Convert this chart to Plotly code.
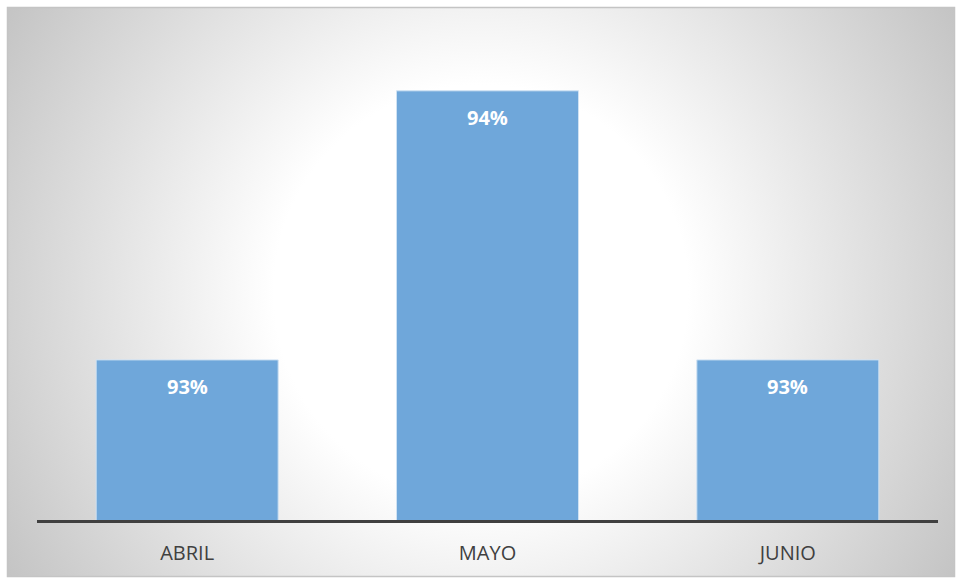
import base64
import plotly.graph_objects as go

categories = ["ABRIL", "MAYO", "JUNIO"]
values = [93, 94, 93]
labels = ["93%", "94%", "93%"]

W, H = 956, 578
L, R, T, B = 37, 18, 37, 58

svg = f'''<svg xmlns="http://www.w3.org/2000/svg" width="{W}" height="{H}" viewBox="0 0 {W} {H}" preserveAspectRatio="none">
<defs><radialGradient id="g" gradientUnits="userSpaceOnUse" cx="481" cy="292" r="552">
<stop offset="0" stop-color="#ffffff"/>
<stop offset="0.375" stop-color="#ffffff"/>
<stop offset="1" stop-color="#c4c4c4"/>
</radialGradient></defs>
<rect x="0" y="0" width="{W}" height="{H}" fill="#ffffff"/>
<rect x="7.5" y="7.5" width="947" height="569" fill="url(#g)" stroke="#c4c4c4" stroke-width="1.5"/>
</svg>'''
src = "data:image/svg+xml;base64," + base64.b64encode(svg.encode()).decode()

pw = W - L - R
ph = H - T - B

fig = go.Figure()
fig.add_trace(go.Bar(
    x=categories, y=values,
    marker=dict(color="#6fa7da", line=dict(color="#cfe2f3", width=1)),
    hoverinfo="skip",
))

for c, v, t in zip(categories, values, labels):
    fig.add_annotation(x=c, y=v, text=f"<b>{t}</b>", showarrow=False,
                       yanchor="middle", yshift=-27,
                       font=dict(family="Open Sans", size=20, color="#ffffff"))

fig.add_layout_image(dict(
    source=src, xref="paper", yref="paper",
    x=-L / pw, y=1 + T / ph, sizex=W / pw, sizey=H / ph,
    xanchor="left", yanchor="top", sizing="stretch", layer="below",
))

fig.update_layout(
    width=W, height=H,
    margin=dict(l=L, r=R, t=T, b=B),
    paper_bgcolor="#ffffff",
    plot_bgcolor="rgba(0,0,0,0)",
    bargap=0.394,
    showlegend=False,
    font=dict(family="Open Sans", color="#404040"),
    xaxis=dict(showgrid=False, showline=True, linecolor="#404040", linewidth=3,
               ticks="outside", ticklen=13, tickcolor="rgba(0,0,0,0)",
               tickfont=dict(size=20, color="#404040"), zeroline=False,
               fixedrange=True),
    yaxis=dict(range=[92.405, 94.2], visible=False, showgrid=False, fixedrange=True),
)

fig.write_html("out.html", config={"displayModeBar": False},
               post_script="document.body.style.margin='0px';document.body.style.overflow='hidden';")
